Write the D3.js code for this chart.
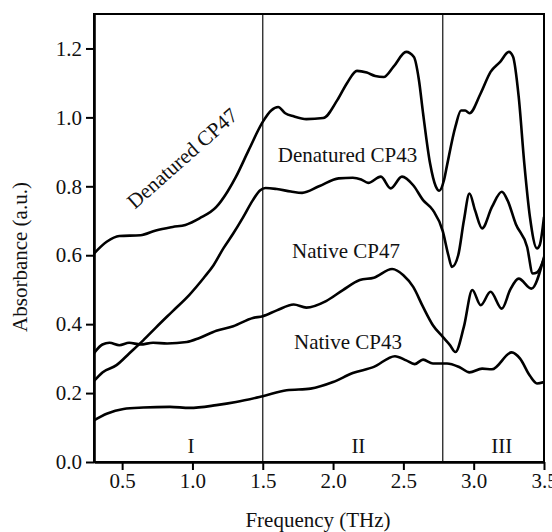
<!DOCTYPE html>
<html>
<head>
<meta charset="utf-8">
<script src="https://cdn.jsdelivr.net/npm/d3@7"></script>
<style>
  body { margin: 0; background: #fff; }
  svg text { font-family: "Liberation Serif", "Times New Roman", Times, serif; fill: #111; }
</style>
</head>
<body>
<div id="chart"></div>
<script>
/////////////////////////
// data: [frequency THz, absorbance]
/////////////////////////
const denaturedCP47 = [[0.30,0.605],[0.39,0.639],[0.48,0.656],[0.63,0.658],[0.74,0.672],[0.86,0.682],[0.95,0.688],[1.05,0.707],[1.17,0.74],[1.25,0.785],[1.31,0.828],[1.40,0.905],[1.50,0.987],[1.56,1.02],[1.61,1.03],[1.66,1.012],[1.72,1.003],[1.81,0.995],[1.93,0.998],[2.03,1.05],[2.10,1.10],[2.17,1.135],[2.24,1.13],[2.30,1.12],[2.36,1.117],[2.43,1.147],[2.52,1.19],[2.575,1.175],[2.61,1.11],[2.64,1.012],[2.69,0.866],[2.73,0.80],[2.755,0.787],[2.79,0.82],[2.81,0.86],[2.87,0.973],[2.91,1.02],[2.94,1.02],[2.97,1.012],[3.05,1.07],[3.12,1.132],[3.19,1.162],[3.25,1.19],[3.28,1.176],[3.32,1.06],[3.36,0.866],[3.40,0.711],[3.45,0.62],[3.47,0.63],[3.50,0.711]];

const denaturedCP43 = [[0.30,0.235],[0.36,0.26],[0.46,0.281],[0.55,0.315],[0.65,0.353],[0.74,0.39],[0.86,0.438],[0.98,0.486],[1.08,0.534],[1.15,0.571],[1.22,0.62],[1.29,0.663],[1.36,0.71],[1.43,0.76],[1.48,0.788],[1.52,0.795],[1.60,0.792],[1.70,0.785],[1.78,0.781],[1.90,0.80],[2.04,0.823],[2.14,0.825],[2.20,0.82],[2.25,0.81],[2.34,0.828],[2.41,0.794],[2.49,0.828],[2.57,0.803],[2.64,0.76],[2.71,0.731],[2.78,0.67],[2.82,0.6],[2.845,0.566],[2.89,0.6],[2.93,0.70],[2.97,0.779],[3.01,0.73],[3.06,0.678],[3.13,0.74],[3.20,0.784],[3.24,0.76],[3.30,0.69],[3.38,0.624],[3.42,0.547],[3.45,0.55],[3.50,0.59]];

const nativeCP47 = [[0.30,0.316],[0.36,0.341],[0.41,0.346],[0.48,0.339],[0.55,0.346],[0.63,0.341],[0.72,0.346],[0.82,0.344],[0.96,0.348],[1.05,0.36],[1.17,0.381],[1.29,0.394],[1.43,0.418],[1.50,0.423],[1.60,0.44],[1.72,0.457],[1.81,0.448],[1.95,0.467],[2.07,0.499],[2.19,0.528],[2.29,0.535],[2.42,0.56],[2.50,0.542],[2.57,0.508],[2.64,0.45],[2.71,0.397],[2.78,0.363],[2.83,0.34],[2.87,0.319],[2.93,0.392],[2.99,0.499],[3.05,0.455],[3.12,0.494],[3.20,0.445],[3.26,0.50],[3.32,0.532],[3.41,0.503],[3.50,0.595]];

const nativeCP43 = [[0.30,0.121],[0.39,0.14],[0.51,0.154],[0.65,0.158],[0.84,0.16],[0.98,0.157],[1.17,0.165],[1.31,0.174],[1.50,0.191],[1.67,0.208],[1.84,0.213],[2.00,0.232],[2.14,0.258],[2.29,0.276],[2.44,0.307],[2.52,0.295],[2.58,0.284],[2.64,0.297],[2.71,0.286],[2.81,0.286],[2.90,0.275],[2.97,0.26],[3.06,0.271],[3.13,0.269],[3.27,0.318],[3.33,0.30],[3.40,0.25],[3.45,0.228],[3.50,0.232]];

const xTicks = [0.5, 1.0, 1.5, 2.0, 2.5, 3.0, 3.5];
const yTicks = [0.0, 0.2, 0.4, 0.6, 0.8, 1.0, 1.2];
const regionBounds = [1.5, 2.78];
const regionNames = ["I", "II", "III"];
const regionCenters = [0.99, 2.18, 3.20];

/////////////////////////
// layout
/////////////////////////
const FONT = "'Liberation Serif', 'Times New Roman', Times, serif";
const W = 552, H = 532;
const margin = {top: 14, right: 8, bottom: 70, left: 94};
const width = W - margin.left - margin.right,
      height = H - margin.top - margin.bottom;

const svg = d3.select("#chart")
  .append("svg")
  .attr("width", W)
  .attr("height", H)
  .attr("font-family", FONT);

const g = svg.append("g")
  .attr("transform", `translate(${margin.left},${margin.top})`);

const x = d3.scaleLinear().domain([0.3, 3.5]).range([0, width]);
const y = d3.scaleLinear().domain([0, 1.3]).range([height, 0]);

// clip
g.append("clipPath").attr("id", "clip")
  .append("rect").attr("width", width).attr("height", height);

// region separators
g.selectAll(".sep")
  .data(regionBounds)
  .join("line")
  .attr("x1", d => x(d)).attr("x2", d => x(d))
  .attr("y1", 0).attr("y2", height)
  .attr("stroke", "#222").attr("stroke-width", 1.3);

// region labels
g.selectAll(".region")
  .data(regionNames)
  .join("text")
  .attr("x", (d, i) => x(regionCenters[i]))
  .attr("y", height - 9)
  .attr("text-anchor", "middle")
  .attr("font-family", FONT)
  .style("font-size", "21px")
  .text(d => d);

// curves
const line = d3.line()
  .x(d => x(d[0]))
  .y(d => y(d[1]))
  .curve(d3.curveMonotoneX);

const series = [denaturedCP47, denaturedCP43, nativeCP47, nativeCP43];
g.append("g").attr("clip-path", "url(#clip)")
  .selectAll("path")
  .data(series)
  .join("path")
  .attr("d", line)
  .attr("fill", "none")
  .attr("stroke", "#000")
  .attr("stroke-width", 2.6)
  .attr("stroke-linejoin", "round");

// frame
g.append("rect")
  .attr("width", width).attr("height", height)
  .attr("fill", "none").attr("stroke", "#000").attr("stroke-width", 2);

// axes
const xAxis = g.append("g")
  .attr("transform", `translate(0,${height})`)
  .call(d3.axisBottom(x).tickValues(xTicks).tickFormat(d3.format(".1f")).tickSize(8).tickSizeOuter(0).tickPadding(3));
const yAxis = g.append("g")
  .call(d3.axisLeft(y).tickValues(yTicks).tickFormat(d3.format(".1f")).tickSize(8).tickSizeOuter(0).tickPadding(4));

[xAxis, yAxis].forEach(a => {
  a.attr("font-family", FONT).attr("font-size", 21);
  a.select(".domain").attr("stroke-width", 2.6);
  a.selectAll(".tick line").attr("stroke-width", 2);
  a.selectAll(".tick text")
    .attr("font-family", FONT)
    .style("font-size", "21px")
    .attr("fill", "#111");
});

// axis titles
svg.append("text")
  .attr("x", 318).attr("y", 527)
  .attr("text-anchor", "middle")
  .attr("font-family", FONT)
  .style("font-size", "21px")
  .text("Frequency (THz)");

svg.append("text")
  .attr("transform", "translate(27,257) rotate(-90)")
  .attr("text-anchor", "middle")
  .attr("font-family", FONT)
  .style("font-size", "21px")
  .text("Absorbance (a.u.)");

// curve labels
svg.append("text")
  .attr("transform", "translate(182,158) rotate(-41.5)")
  .attr("text-anchor", "middle")
  .attr("dy", "0.35em")
  .attr("font-family", FONT)
  .style("font-size", "21px")
  .text("Denatured CP47");

const labels = [
  {t: "Denatured CP43", x: 347.5, y: 161.5},
  {t: "Native CP47", x: 346, y: 258},
  {t: "Native CP43", x: 348, y: 349}
];
svg.selectAll(".clabel")
  .data(labels)
  .join("text")
  .attr("x", d => d.x).attr("y", d => d.y)
  .attr("text-anchor", "middle")
  .attr("font-family", FONT)
  .style("font-size", "21px")
  .text(d => d.t);
</script>
</body>
</html>
